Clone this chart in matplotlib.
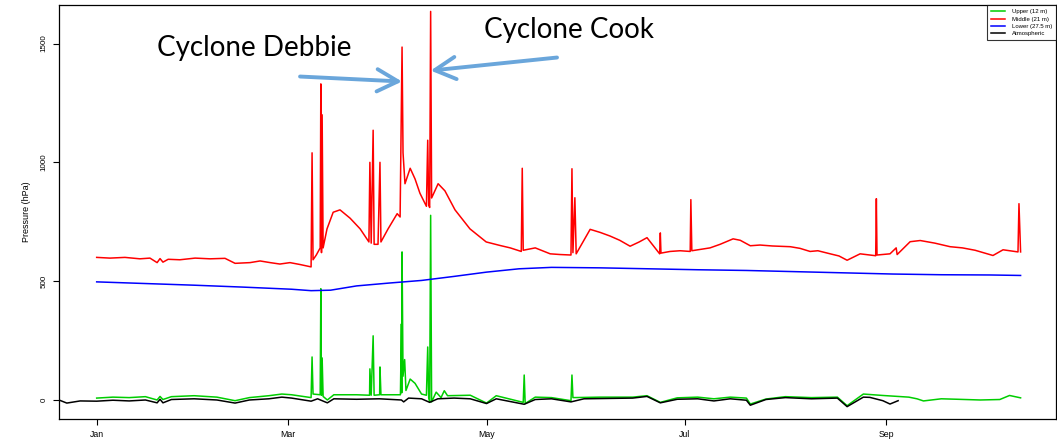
import numpy as np
import matplotlib
matplotlib.use('Agg')
import matplotlib.pyplot as plt
import matplotlib.dates as mdates

# days since 1 Jan 2017 and pressure (hPa)
middle_days = [0, 4.1, 8.7, 13.3, 16.4, 18.6, 19.5, 20.4, 22.0, 25.6, 30.3, 34.9, 39.5, 42.6,
               47.2, 50.3, 53.4, 56.4, 59.5, 62.6, 66.0, 66.3, 66.6, 67.6, 68.8, 69.0, 69.2,
               69.4, 69.7, 70.9, 72.8, 74.9, 78.0, 81.1, 83.8, 84.1, 84.5, 85.1, 85.4, 86.6,
               87.2, 87.5, 89.7, 92.5, 93.4, 94.0, 94.3, 94.9, 96.5, 98.0, 99.5, 101.5, 101.9,
               102.2, 102.5, 102.8, 103.1, 105.1, 107.2, 110.3, 114.9, 119.9, 124.2, 127.3,
               130.7, 131.0, 131.3, 135.0, 139.6, 142.7, 146.0, 146.3, 146.6, 147.2, 147.6,
               151.9, 155.0, 158.0, 161.0, 164.2, 167.0, 169.4, 173.3, 173.5, 173.7, 176.5,
               179.6, 182.7, 182.9, 183.2, 186.0, 188.8, 191.9, 195.9, 198.1, 201.2, 204.2,
               208.0, 213.5, 216.5, 219.6, 222.0, 225.8, 228.5, 231.0, 235.0, 239.8, 240.0,
               240.2, 244.2, 246.1, 246.4, 250.4, 253.5, 258.0, 262.7, 266.5, 270.4, 275.9,
               279.0, 283.6, 283.9, 284.4]
middle_vals = [600, 597, 600, 594, 597, 578, 595, 580, 592, 590, 597, 594, 596, 575,
               578, 585, 578, 572, 578, 570, 560, 1040, 590, 610, 640, 1330, 620,
               1200, 640, 720, 790, 800, 765, 720, 665, 1000, 660, 1135, 655, 655,
               1000, 665, 720, 784, 770, 1485, 1040, 910, 975, 930, 870, 815, 1093,
               820, 810, 1635, 850, 910, 880, 800, 720, 665, 650, 640,
               625, 975, 630, 640, 615, 612, 610, 973, 620, 851, 615,
               718, 705, 690, 672, 647, 665, 683, 615, 703, 618, 625,
               628, 625, 843, 628, 634, 640, 655, 678, 672, 649, 652,
               648, 645, 638, 625, 628, 615, 606, 588, 615, 607, 847,
               610, 615, 640, 612, 666, 671, 660, 645, 640, 630, 608,
               632, 623, 826, 623]

lower_days = [0, 15, 30, 45, 60, 66, 72, 80, 90, 100, 110, 120, 130, 140, 155, 170, 185,
              200, 215, 230, 245, 260, 275, 284.4]
lower_vals = [497, 490, 483, 475, 466, 460, 462, 480, 492, 503, 520, 538, 552, 558, 556,
              552, 548, 545, 540, 535, 530, 527, 526, 524]

upper_days = [0, 5, 10, 15, 18.6, 19.5, 20.4, 23, 30, 37, 42.6, 47, 53, 57, 60, 66.0, 66.3,
              66.6, 68.8, 69.0, 69.2, 69.4, 69.7, 71, 73, 80, 84.0, 84.1, 84.5, 85.1, 85.4,
              87.1, 87.2, 87.5, 93.5, 93.8, 93.9, 94.0, 94.3, 94.8, 95.2, 96.5, 98, 100,
              101.5, 101.9, 102.2, 102.5, 102.8, 103.1, 104.5, 106, 107, 108, 115, 120, 123,
              131.3, 131.6, 131.9, 135, 140, 146.0, 146.3, 146.6, 155, 165, 169.4, 173.5,
              178.7, 185, 190, 195, 200, 201.2, 206, 212, 220, 228, 231, 236, 242, 250,
              252.5, 254.5, 260, 265, 272, 278, 281, 284.4]
upper_vals = [8, 12, 10, 14, 0, 15, 2, 14, 18, 12, -3, 10, 18, 25, 22, 10, 181,
              25, 22, 468, 20, 177, 15, 0, 22, 22, 20, 131, 20, 270, 20,
              22, 139, 22, 22, 320, 30, 623, 100, 170, 40, 88, 70, 25,
              20, 223, 10, -8, 777, -8, 33, 10, 39, 18, 20, -13, 18,
              -10, 105, -15, 12, 10, -3, 105, 10, 12, 12, 18, -10,
              9, 12, 5, 12, 8, -17, 4, 14, 10, 12, -24, 25, 19, 12,
              5, -4, 5, 3, 0, 2, 19, 9]

atmos_days = [-11.6, -9.2, -5.1, 0, 5, 10, 15, 18.6, 19.5, 20.4, 23, 30, 37, 42.6, 47, 53,
              57, 60, 66, 68, 71, 73, 80, 87, 93.8, 94.5, 96, 100, 102.5, 105, 110, 115,
              120, 123, 131.6, 135, 140, 146, 150, 165, 169.4, 173.5, 178.7, 185, 190, 195,
              200, 201.2, 206, 212, 220, 228, 231, 236, 238, 242, 244.2, 246.7]
atmos_vals = [0, -13, -4, -5, -1, -4, 0, -12, 3, -12, 2, 5, 0, -13, 0, 5,
              12, 8, -5, 5, -12, 5, 3, 5, 0, -8, 8, 5, -10, 5, 8, 5,
              -15, 5, -18, 2, 5, -8, 5, 8, 15, -12, 3, 5, -4, 5,
              -1, -22, 2, 10, 5, 8, -28, 12, 11, -3, -17, -3]

series = [('Upper (12 m)', upper_days, upper_vals, '#00cd00'),
          ('Middle (21 m)', middle_days, middle_vals, '#ff0000'),
          ('Lower (27.5 m)', lower_days, lower_vals, '#0000ff'),
          ('Atmospheric', atmos_days, atmos_vals, '#000000')]

month_ticks = ['2017-01-01', '2017-03-01', '2017-05-01', '2017-07-01', '2017-09-01']
y_ticks = [0, 500, 1000, 1500]

START = np.datetime64('2017-01-01T00:00')


def to_dates(days):
    return START + (np.asarray(days) * 24 * 60).round().astype('timedelta64[m]')


plt.rcParams['font.family'] = ['Liberation Sans', 'DejaVu Sans']

fig = plt.figure(figsize=(10.57, 4.40), dpi=100)
ax = fig.add_axes([59 / 1057, 21 / 440, 997 / 1057, 414 / 440])

for name, d, v, c in series:
    ax.plot(to_dates(d), v, color=c, lw=1.1, label=name)

ax.set_xlim(to_dates([-11.6])[0], to_dates([295.3])[0])
ax.set_ylim(-80, 1662)
ax.set_xticks([np.datetime64(t) for t in month_ticks])
ax.xaxis.set_major_formatter(mdates.DateFormatter('%b'))
ax.set_yticks(y_ticks)
ax.tick_params(direction='out', length=4.5, width=0.8, labelsize=6.3, pad=3.5)
ax.tick_params(axis='y', labelrotation=90, labelsize=5.8)
for lab in ax.get_yticklabels():
    lab.set_va('center')
ax.set_ylabel('Pressure (hPa)', fontsize=6.5, labelpad=7)
for s in ax.spines.values():
    s.set_linewidth(0.9)

leg = ax.legend(loc='upper right', fontsize=4.3, frameon=True, fancybox=False,
                edgecolor='black', borderaxespad=0, handlelength=2.3,
                labelspacing=0.35, borderpad=0.7, handletextpad=1.1)
leg.get_frame().set_linewidth(0.8)

arrow_col = '#6aa6db'
arrow_style = dict(arrowstyle='->,head_length=0.75,head_width=0.4', lw=2.8,
                   color=arrow_col, mutation_scale=20, shrinkA=0, shrinkB=0,
                   capstyle='round', joinstyle='round')

# Debbie
ax.annotate('', xy=(to_dates([94.0])[0], 1340), xytext=(to_dates([62.6])[0], 1361),
            arrowprops=arrow_style)
ax.text(to_dates([18.5])[0], 1483, 'Cyclone Debbie', fontsize=20, family='Lato',
        va='center', ha='left')
# Cook
ax.annotate('', xy=(to_dates([102.8])[0], 1386), xytext=(to_dates([141.7])[0], 1441),
            arrowprops=arrow_style)
ax.text(to_dates([119.3])[0], 1555, 'Cyclone Cook', fontsize=20, family='Lato',
        va='center', ha='left')

fig.savefig('out.png', dpi=100)
